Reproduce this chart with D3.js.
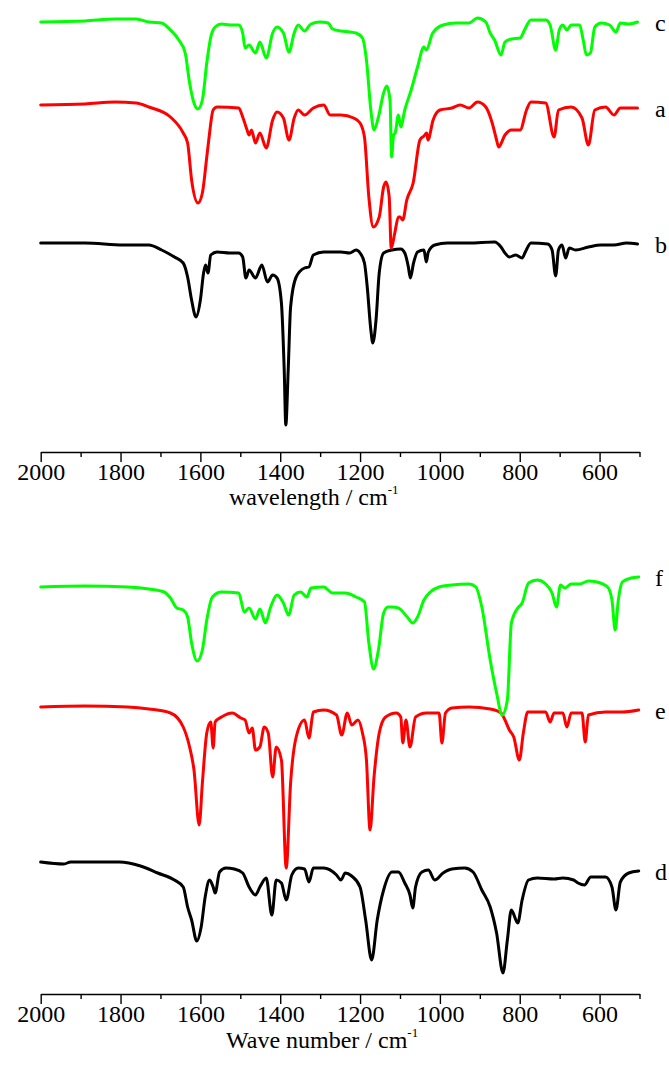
<!DOCTYPE html>
<html><head><meta charset="utf-8">
<script src="https://cdn.jsdelivr.net/npm/d3@7/dist/d3.min.js"></script>
<style>body{margin:0;background:#fff}svg{display:block}
text{font-family:"Liberation Serif","Times New Roman",serif}</style>
</head><body><svg id="chart" width="669" height="1072"></svg>
<script>
// Tick values (wavenumber, cm^-1)
const majorTicks = [2000,1800,1600,1400,1200,1000,800,600];
const minorTicks = [1900,1700,1500,1300,1100,900,700,500];
const topTitle = "wavelength / cm";
const bottomTitle = "Wave number / cm";

// Transmittance (a.u., offset stacked) vs wavenumber — top panel
const curveC = [[2000,430],[1889,431],[1814,433],[1761,433],[1729,430],[1697,429],[1675,422],[1654,412],[1638,399],[1627,369],[1616,349],[1606,343],[1595,352],[1584,389],[1574,415],[1563,425],[1547,428],[1526,427],[1504,427],[1494,419],[1488,404],[1478,407],[1462,399],[1451,410],[1435,394],[1419,419],[1408,425],[1392,419],[1378,400],[1365,419],[1355,427],[1339,421],[1323,428],[1301,430],[1280,429],[1269,423],[1248,421],[1226,420],[1210,419],[1194,414],[1184,392],[1173,342],[1165,322],[1154,335],[1141,359],[1133,366],[1125,352],[1121,295],[1116,317],[1112,319],[1104,337],[1098,325],[1088,342],[1072,362],[1056,385],[1040,405],[1034,402],[1018,419],[992,427],[960,429],[927,429],[906,434],[885,430],[874,419],[863,412],[847,397],[837,410],[821,413],[799,414],[788,422],[772,432],[735,432],[724,427],[710,402],[701,422],[692,427],[682,422],[671,427],[650,427],[641,412],[633,397],[623,399],[612,425],[596,429],[575,427],[559,420],[548,429],[527,428],[505,430]];
const curveA = [[2000,347],[1889,348],[1814,350],[1761,349],[1729,345],[1675,335],[1643,319],[1632,309],[1622,272],[1606,249],[1595,259],[1584,295],[1579,312],[1568,342],[1558,345],[1504,344],[1494,335],[1483,322],[1478,317],[1472,322],[1462,309],[1451,319],[1435,304],[1419,332],[1408,340],[1392,334],[1378,312],[1365,334],[1355,342],[1339,337],[1317,344],[1291,347],[1275,337],[1248,337],[1216,334],[1200,329],[1189,315],[1178,255],[1167,225],[1152,235],[1141,265],[1135,270],[1127,255],[1122,204],[1113,219],[1104,235],[1100,235],[1093,232],[1083,252],[1067,269],[1050,312],[1040,316],[1033,319],[1030,312],[1017,332],[1000,342],[970,344],[949,347],[927,344],[906,350],[885,345],[869,329],[858,312],[853,305],[837,317],[821,322],[799,322],[783,342],[772,350],[735,349],[714,315],[703,342],[671,345],[644,334],[628,307],[612,342],[585,345],[564,337],[548,344],[505,344]];
const curveB = [[2000,209],[1889,209],[1793,207],[1729,207],[1697,202],[1665,195],[1643,189],[1632,175],[1622,152],[1611,135],[1600,152],[1592,179],[1587,187],[1581,179],[1574,197],[1558,200],[1526,199],[1504,199],[1494,195],[1486,174],[1478,182],[1462,174],[1446,187],[1432,170],[1419,177],[1408,174],[1397,149],[1390,82],[1386,27],[1380,82],[1374,145],[1360,175],[1339,184],[1328,185],[1317,197],[1291,200],[1248,200],[1226,199],[1210,202],[1200,199],[1189,189],[1182,165],[1173,122],[1168,109],[1160,132],[1152,179],[1141,199],[1120,202],[1098,203],[1088,199],[1079,185],[1074,174],[1066,189],[1056,200],[1040,202],[1034,190],[1029,200],[1013,207],[981,209],[927,209],[863,210],[847,205],[837,199],[826,195],[810,197],[794,194],[786,200],[772,209],[730,208],[719,202],[710,176],[703,202],[694,207],[685,194],[676,204],[660,202],[628,205],[596,207],[564,207],[532,209],[505,208]];

// Bottom panel
const curveF = [[2000,407],[1889,408],[1782,407],[1729,405],[1691,402],[1675,396],[1659,386],[1643,384],[1632,377],[1622,351],[1608,333],[1595,344],[1584,374],[1570,397],[1547,402],[1504,401],[1490,382],[1478,386],[1462,375],[1451,385],[1437,371],[1424,387],[1408,399],[1392,391],[1379,379],[1365,399],[1349,402],[1333,397],[1323,406],[1291,407],[1269,401],[1237,401],[1210,397],[1189,392],[1178,351],[1166,325],[1154,344],[1141,381],[1130,387],[1120,387],[1104,386],[1082,377],[1068,371],[1056,377],[1040,394],[1024,402],[1002,407],[970,409],[927,410],[910,407],[895,387],[874,334],[858,301],[844,279],[831,294],[821,371],[805,386],[794,391],[778,411],[756,414],[735,410],[719,401],[708,387],[698,409],[687,406],[671,410],[650,410],[628,413],[607,412],[580,407],[569,394],[561,364],[553,394],[543,412],[521,416],[502,417]];
const curveE = [[2000,287],[1889,288],[1782,287],[1729,285],[1675,281],[1643,267],[1627,247],[1616,224],[1603,169],[1595,211],[1584,261],[1574,272],[1568,246],[1563,272],[1547,277],[1520,281],[1499,276],[1488,274],[1478,261],[1470,266],[1462,244],[1451,247],[1440,267],[1430,261],[1419,217],[1410,247],[1397,234],[1385,126],[1374,211],[1360,257],[1339,274],[1328,256],[1317,282],[1291,284],[1259,279],[1246,259],[1232,281],[1221,269],[1205,274],[1194,261],[1184,234],[1175,164],[1165,217],[1152,261],[1136,277],[1109,281],[1098,277],[1093,251],[1085,274],[1075,247],[1061,277],[1034,281],[1002,281],[995,251],[986,281],[970,286],[927,287],[874,285],[847,281],[837,274],[826,264],[815,257],[801,234],[791,261],[780,282],[735,282],[724,272],[714,281],[692,281],[682,267],[671,281],[644,281],[636,252],[628,279],[585,282],[543,282],[502,284]];
const curveD = [[2000,132],[1942,130],[1925,132],[1803,132],[1750,128],[1707,121],[1665,114],[1643,107],[1632,87],[1622,74],[1609,53],[1598,67],[1588,97],[1577,114],[1568,107],[1563,101],[1552,122],[1536,126],[1515,125],[1494,121],[1478,107],[1462,99],[1451,107],[1435,116],[1421,79],[1410,114],[1397,111],[1385,94],[1371,119],[1355,126],[1339,125],[1328,112],[1317,126],[1291,126],[1259,119],[1248,114],[1237,121],[1221,118],[1200,107],[1186,74],[1171,34],[1157,74],[1141,104],[1120,122],[1104,122],[1088,111],[1075,99],[1068,86],[1061,107],[1045,122],[1029,124],[1013,114],[992,121],[970,125],[938,126],[917,122],[895,104],[874,87],[858,61],[842,21],[831,54],[821,84],[805,71],[794,94],[778,114],[756,116],[714,115],[692,116],[665,114],[654,111],[638,109],[622,117],[585,117],[569,107],[559,84],[548,112],[527,121],[502,123]];

const svg = d3.select("#chart");
svg.append("rect").attr("width",669).attr("height",1072).attr("fill","#fff");

const x = d3.scaleLinear().domain([2000, 500]).range([40.7, 639.5]);
const FONT = '"Liberation Serif","Times New Roman",serif';

const panels = [
  {axisY: 452, top: 0, series: [
    {data: curveB, color: "#000000", label: "b"},
    {data: curveA, color: "#ff0000", label: "a"},
    {data: curveC, color: "#00ff00", label: "c"}],
   title: topTitle, titleX: 229, titleY: 505},
  {axisY: 994, top: 540, series: [
    {data: curveD, color: "#000000", label: "d"},
    {data: curveE, color: "#ff0000", label: "e"},
    {data: curveF, color: "#00ff00", label: "f"}],
   title: bottomTitle, titleX: 226, titleY: 1048}
];

panels.forEach(p => {
  const h = p.axisY - p.top;
  const y = d3.scaleLinear().domain([0, h]).range([p.axisY, p.top]);
  const line = d3.line().x(d => x(d[0])).y(d => y(d[1])).curve(d3.curveMonotoneX);
  const g = svg.append("g");
  p.series.forEach(s => {
    g.append("path").datum(s.data)
      .attr("fill","none").attr("stroke", s.color)
      .attr("stroke-width", 3).attr("stroke-linejoin","round").attr("stroke-linecap","round")
      .attr("d", line);
    const last = s.data[s.data.length-1];
    g.append("text").attr("x", 655).attr("y", y(last[1]) + 9)
      .style("font-family", FONT).style("font-size", "24px").attr("fill","#000")
      .text(s.label);
  });
  const major = d3.axisBottom(x).tickValues(majorTicks).tickSize(10).tickSizeOuter(0)
    .tickPadding(1).tickFormat(d3.format("d"));
  const ax = svg.append("g").attr("transform", `translate(0,${p.axisY})`).call(major);
  ax.attr("font-family", null).attr("font-size", null);
  ax.select(".domain").attr("stroke-width", 1.4);
  ax.selectAll(".tick line").attr("stroke-width", 1.4);
  ax.selectAll(".tick text").style("font-family", FONT).style("font-size", "24px").attr("fill","#000");
  const minor = d3.axisBottom(x).tickValues(minorTicks).tickSize(5).tickSizeOuter(0).tickFormat("");
  const mx = svg.append("g").attr("transform", `translate(0,${p.axisY})`).call(minor);
  mx.select(".domain").remove();
  mx.selectAll(".tick line").attr("stroke-width", 1.4);
  const t = svg.append("text").attr("x", p.titleX).attr("y", p.titleY)
    .style("font-family", FONT).style("font-size", "24px").attr("fill","#000");
  t.append("tspan").text(p.title);
  t.append("tspan").attr("dy", -11).style("font-size", "13px").text("-1");
});
</script></body></html>
